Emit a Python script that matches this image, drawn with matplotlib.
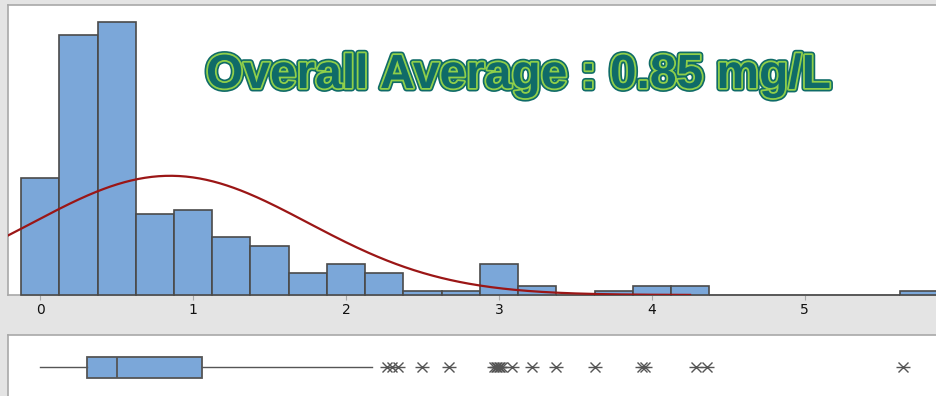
import numpy as np
import matplotlib
matplotlib.use("Agg")
import matplotlib.pyplot as plt
import matplotlib.patheffects as pe

# Histogram counts in 0.25 mg/L bins (bin centres)
bin_centers = [0.0, 0.25, 0.5, 0.75, 1.0, 1.25, 1.5, 1.75, 2.0, 2.25, 2.5, 2.75,
               3.0, 3.25, 3.5, 3.75, 4.0, 4.25, 4.5, 4.75, 5.0, 5.25, 5.5, 5.75]
counts = [26, 58, 61, 18, 19, 13, 11, 5, 7, 5, 1, 1,
          7, 2, 0, 1, 2, 2, 0, 0, 0, 0, 0, 1]
bin_width = 0.25

# Fitted normal
fit_mean = 0.85
fit_sd = 0.90
fit_end = 4.25

# Boxplot summary and outliers
box_q1, box_med, box_q3 = 0.307, 0.50, 1.06
whisker_lo, whisker_hi = 0.0, 2.17
outliers = [2.266, 2.298, 2.341, 2.494, 2.675,
            2.97, 2.98, 2.99, 3.0, 3.01, 3.02, 3.083, 3.214, 3.375,
            3.628, 3.933, 3.955, 4.288, 4.358, 5.644]

x_ticks = [0, 1, 2, 3, 4, 5]
title = "Overall Average : 0.85 mg/L"

BG = "#e4e4e4"
BAR = "#7ba7d9"
EDGE = "#4a4a4a"
FRAME = "#a8a8a8"
CURVE = "#9b1616"
TEAL = "#0f6b68"
LIME = "#8fcf4a"

W, H = 937, 396
fig = plt.figure(figsize=(W / 100, H / 100), dpi=100, facecolor=BG)

xlim = (-0.211, 5.865)

# histogram panel
ax = fig.add_axes([8 / W, 1 - 295 / H, (W - 8) / W, 290 / H])
ax.set_facecolor("white")
bars = ax.bar(bin_centers, counts, width=bin_width, color=BAR, edgecolor=EDGE,
              linewidth=1.2, zorder=3)
for b in bars:
    b.set_clip_on(False)

n_total = sum(counts)
xs = np.linspace(xlim[0], fit_end, 300)
pdf = np.exp(-0.5 * ((xs - fit_mean) / fit_sd) ** 2) / (fit_sd * np.sqrt(2 * np.pi))
ax.plot(xs, n_total * bin_width * pdf, color=CURVE, linewidth=1.6, zorder=4)

ax.set_xlim(*xlim)
ax.set_ylim(0, 64.7)
ax.set_xticks(x_ticks)
ax.set_xticklabels([str(t) for t in x_ticks])
ax.set_yticks([])
ax.tick_params(axis="x", length=3.5, color=FRAME, pad=2, labelsize=10,
               labelcolor="#111111")
for side in ("left", "top", "bottom"):
    ax.spines[side].set_color(FRAME)
    ax.spines[side].set_linewidth(1.2)
ax.spines["right"].set_visible(False)

txt = fig.text(206 / W, 1 - 88 / H, title, ha="left", va="baseline",
               fontsize=34.5, fontweight="bold", family="Liberation Sans",
               color=TEAL)
txt.set_path_effects([
    pe.Stroke(linewidth=5.0, foreground=TEAL),
    pe.Stroke(linewidth=2.6, foreground=LIME),
    pe.Normal(),
])

# boxplot panel
bx = fig.add_axes([8 / W, 0, (W - 8) / W, 61 / H])
bx.set_facecolor("white")
stats = [{
    "whislo": whisker_lo, "q1": box_q1, "med": box_med,
    "q3": box_q3, "whishi": whisker_hi, "fliers": [],
}]
bx.bxp(stats, positions=[0], widths=21.3, vert=False, patch_artist=True,
       showcaps=False, showfliers=False,
       boxprops=dict(facecolor=BAR, edgecolor="#555555", linewidth=1.3),
       medianprops=dict(color="#555555", linewidth=1.3),
       whiskerprops=dict(color="#555555", linewidth=1.0))
oy = np.zeros(len(outliers))
bx.plot(outliers, oy, linestyle="none", marker="x", markersize=6.5,
        markeredgewidth=1.0, color="#555555")
bx.plot(outliers, oy, linestyle="none", marker="_", markersize=10,
        markeredgewidth=1.0, color="#555555")
bx.set_xlim(*xlim)
bx.set_ylim(-28.7, 32.3)
bx.set_xticks([])
bx.set_yticks([])
for side in ("left", "top"):
    bx.spines[side].set_color(FRAME)
    bx.spines[side].set_linewidth(1.2)
bx.spines["right"].set_visible(False)
bx.spines["bottom"].set_visible(False)

fig.savefig("out.png", dpi=100, facecolor=BG)
